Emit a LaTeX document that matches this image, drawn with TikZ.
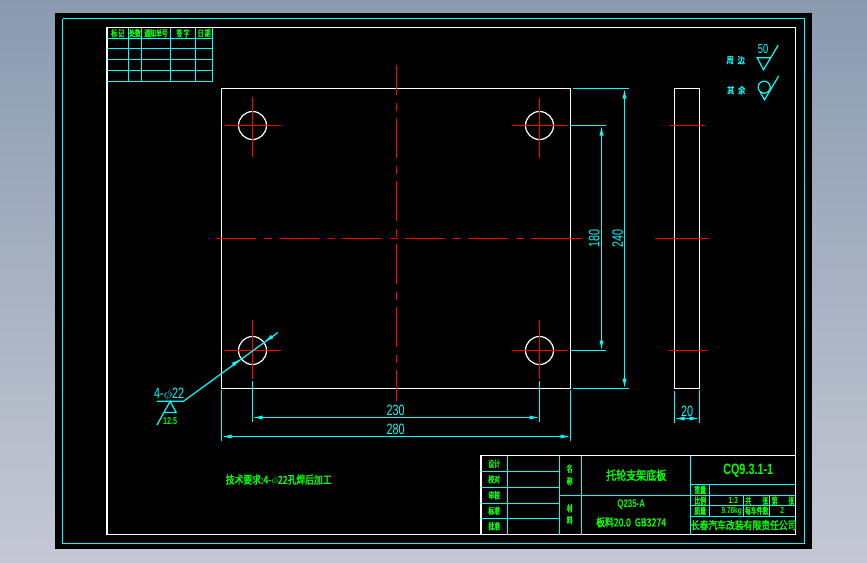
\documentclass[tikz,border=0pt]{standalone}
\usepackage{fontspec}
\usetikzlibrary{arrows.meta}
\newfontfamily\cadfont[FakeStretch=0.72]{Liberation Sans}
\newfontfamily\cjk[FakeStretch=0.8,FakeBold=2]{Noto Sans CJK SC}
\newfontfamily\cjknarrow[FakeStretch=0.65,FakeBold=2]{Noto Sans CJK SC}
\definecolor{cadcyan}{RGB}{0,255,255}
\definecolor{cadgreen}{RGB}{0,255,0}
\definecolor{cadred}{RGB}{255,0,0}
\tikzset{
  outline/.style={draw=white,line width=1.2pt},
  thinline/.style={draw=cadcyan,line width=1.2pt},
  redline/.style={draw=cadred,line width=1.2pt},
  centerline/.style={redline,dash pattern=on 40pt off 7.5pt on 8pt off 7.5pt},
  dimarrow/.style={thinline,{Latex[length=10pt,width=4.2pt]}-{Latex[length=10pt,width=4.2pt]}},
  onearrow/.style={thinline,-{Latex[length=10pt,width=4.2pt]}},
  holecirc/.style={circle,draw=white,line width=1.2pt,minimum size=28pt,inner sep=0pt},
  dimtext/.style={text=cadcyan,inner sep=0pt,font=\cadfont\fontsize{15}{15}\selectfont},
  smalltxt/.style={text=cadgreen,inner sep=0pt,font=\cjknarrow\fontsize{9}{9}\selectfont},
  midtxt/.style={text=cadgreen,inner sep=0pt,font=\cjk\fontsize{11}{11}\selectfont},
  bigtxt/.style={text=cadgreen,inner sep=0pt,font=\cjk\fontsize{12.5}{12.5}\selectfont},
  numtxt/.style={text=cadgreen,inner sep=0pt,font=\cadfont\bfseries\fontsize{9}{9}\selectfont},
  cyantxt/.style={text=cadcyan,inner sep=0pt,font=\cjk\fontsize{9}{9}\selectfont}
}
\begin{document}
\begin{tikzpicture}[x=1pt,y=-1pt]
    \useasboundingbox (0,0) rectangle (867,562);
    \shade [top color={rgb,255:red,138;green,155;blue,176},bottom color={rgb,255:red,197;green,200;blue,212}] (0,0) rectangle (867,562);
    \fill [black] (55,13) rectangle (812,549);
  \begin{scope}[shift={(0.2,0.2)}]
    % frames
    \draw [thinline] (63,18.3) -- (804.3,18.3) -- (804.3,543.3) -- (62.3,543.3) -- (62.3,19);
    \draw [outline] (106.7,27.3) rectangle (795,534.3);

    % change table
    \foreach \y in {38.3,48.3,59.3,70.3,81.3} {
        \draw [thinline] (106.7,\y) -- (212.3,\y);
    }
    \foreach \x in {128.3,141.3,170.3,195.3,212.3} {
        \draw [thinline] (\x,27.3) -- (\x,81.3);
    }
    \node [smalltxt] (markA) at (117.5,33) {标\ 记};
    \node [smalltxt] (markB) at (134.8,33) {处数};
    \node [smalltxt] (markC) at (155.8,33) {通知单号};
    \node [smalltxt] (markD) at (182.8,33) {签\ 字};
    \node [smalltxt] (markE) at (204,33) {日\ 期};

    % plate
    \draw [outline] (221.3,88.3) rectangle (570.3,388.3);
    \foreach \nm/\cx/\cy/\vt/\vb in {TL/252.3/125.3/97/157,TR/539.3/125.3/98/158,BL/252.3/350.3/320/379,BR/539.3/350.3/320/379} {
        \node [holecirc] (hole\nm) at (\cx,\cy) {};
        \draw [redline] (\cx-28,\cy) -- (\cx+28,\cy);
        \draw [redline] (\cx,\vt) -- (\cx,\vb);
    }
    \draw [centerline,dash phase=55pt] (208,238.3) -- (574,238.3);
    \draw [redline] (570,238.3) -- (582,238.3);
    \draw [centerline,dash phase=10pt] (396.3,65) -- (396.3,401);

    % side view
    \draw [outline] (674.3,88.3) rectangle (699.3,388.3);
    \draw [redline] (670,125.3) -- (705,125.3);
    \draw [redline] (655,238.3) -- (709,238.3);
    \draw [redline] (669,350.3) -- (707,350.3);

    % vertical dimensions
    \coordinate (dimAt) at (601.3,125.3);
    \coordinate (dimAb) at (601.3,350.3);
    \coordinate (dimBt) at (624.3,88.3);
    \coordinate (dimBb) at (624.3,388.3);
    \draw [thinline] (570.3,125.3) -- (606,125.3);
    \draw [thinline] (570.3,350.3) -- (606,350.3);
    \draw [thinline] (573,88.3) -- (629,88.3);
    \draw [thinline] (573,388.3) -- (629,388.3);
    \draw [dimarrow] (dimAt) -- (dimAb);
    \draw [dimarrow] (dimBt) -- (dimBb);
    \node [dimtext,rotate=90] (dimAtxt) at (594,238) {180};
    \node [dimtext,rotate=90] (dimBtxt) at (617.5,238) {240};

    % horizontal dimensions
    \coordinate (dimCl) at (252.3,417.3);
    \coordinate (dimCr) at (539.3,417.3);
    \coordinate (dimDl) at (221.3,436.3);
    \coordinate (dimDr) at (570.3,436.3);
    \coordinate (dimEl) at (674.3,418.3);
    \coordinate (dimEr) at (699.3,418.3);
    \draw [thinline] (252.3,381) -- (252.3,422);
    \draw [thinline] (539.3,381) -- (539.3,422);
    \draw [thinline] (221.3,390) -- (221.3,441);
    \draw [thinline] (570.3,390) -- (570.3,441);
    \draw [thinline] (674.3,391) -- (674.3,423);
    \draw [thinline] (699.3,390) -- (699.3,423);
    \draw [dimarrow] (dimCl) -- (dimCr);
    \draw [dimarrow] (dimDl) -- (dimDr);
    \draw [dimarrow] (dimEl) -- (dimEr);
    \node [dimtext] (dimCtxt) at (395.5,410.5) {230};
    \node [dimtext] (dimDtxt) at (395.5,429.5) {280};
    \node [dimtext] (dimEtxt) at (687,411.5) {20};

    % hole leader
    \coordinate (leadS) at (157,401);
    \coordinate (leadA) at (183.3,401);
    \coordinate (leadB) at (277.7,332.3);
    \coordinate (tipA) at (241,358.5);
    \coordinate (tailA) at (232.5,364.5);
    \coordinate (tipB) at (263.6,342.1);
    \coordinate (tailB) at (272.2,336.2);
    \draw [thinline] (leadS) -- (leadA) -- (leadB);
    \draw [onearrow] (tailA) -- (tipA);
    \draw [onearrow] (tailB) -- (tipB);
    \node [dimtext] (leadtxt) at (169,394) {4-$\phi$22};
    \draw [thinline] (156.7,425) -- (170,401) -- (176,412.3) -- (163.5,412.3);
    \node [numtxt,font=\cadfont\bfseries\fontsize{10}{10}\selectfont] (roughtxt) at (170,420.5) {12.5};

    % note
    \node [midtxt] (notetxt) at (278.5,480) {技术要求:4-$\phi$22孔焊后加工};

    % roughness marks
    \node [cyantxt] (markF) at (730,60) {周};
    \node [cyantxt] (markG) at (741,60) {边};
    \node [cyantxt] (markH) at (730.5,90) {其};
    \node [cyantxt] (markI) at (741.5,90) {余};
    \node [dimtext,font=\cadfont\fontsize{13}{13}\selectfont] (roughA) at (762.8,49) {50};
    \draw [thinline] (771,57.5) -- (757,57.5) -- (763.3,69.6) -- (778,45);
    \node [circle,draw=cadcyan,line width=1.2pt,minimum size=12pt,inner sep=0pt] (roughB) at (764,87) {};
    \draw [thinline] (760,92) -- (764.3,99.6) -- (778.6,75.6);

    % title block
    \draw [outline] (480.7,534.3) -- (480.7,455.3) -- (795,455.3);
    \foreach \y in {471.3,487.3,503.3,518.3} {
        \draw [thinline] (480.7,\y) -- (559.3,\y);
    }
    \foreach \x in {507.3,559.3,581.3,690.3} {
        \draw [thinline] (\x,455.3) -- (\x,534.3);
    }
    \draw [thinline] (559.3,495.3) -- (795,495.3);
    \foreach \y in {484.3,505.3,516.3} {
        \draw [thinline] (690.3,\y) -- (795,\y);
    }
    \draw [thinline] (709.3,484.3) -- (709.3,516.3);
    \draw [thinline] (743.3,495.3) -- (743.3,516.3);
    \draw [thinline] (769.3,495.3) -- (769.3,516.3);

    \node [smalltxt] (tbA) at (494,463.5) {设计};
    \node [smalltxt] (tbB) at (494,479) {校对};
    \node [smalltxt] (tbC) at (494,495) {审核};
    \node [smalltxt] (tbD) at (494,510.5) {标准};
    \node [smalltxt] (tbE) at (494,526) {批准};
    \node [smalltxt] (tbF) at (569.5,468.5) {名};
    \node [smalltxt] (tbG) at (569.5,481) {称};
    \node [smalltxt] (tbH) at (569.5,508) {材};
    \node [smalltxt] (tbI) at (569.5,520) {料};
    \node [bigtxt] (tbJ) at (636,475) {托轮支架底板};
    \node [numtxt,font=\cadfont\bfseries\fontsize{11}{11}\selectfont] (tbK) at (631,505) {Q235-A};
    \node [midtxt] (tbL) at (631,522) {板料20.0\ \ GB3274};
    \node [numtxt,font=\cadfont\bfseries\fontsize{15}{15}\selectfont] (tbM) at (748,471) {CQ9.3.1-1};
    \node [smalltxt] (tbN) at (700,489.5) {重量};
    \node [smalltxt] (tbO) at (700,500.5) {比例};
    \node [smalltxt] (tbP) at (700,510.5) {质量};
    \node [numtxt] (tbQ) at (733,500.5) {1:3};
    \node [numtxt] (tbR) at (731.5,510.5) {9.78kg};
    \node [smalltxt] (tbS) at (748,500.5) {共};
    \node [smalltxt] (tbT) at (765,500.5) {张};
    \node [smalltxt] (tbU) at (774.5,500.5) {第};
    \node [smalltxt] (tbV) at (791,500.5) {张};
    \node [smalltxt] (tbW) at (756.5,510.5) {每车件数};
    \node [numtxt] (tbX) at (782,510.5) {2};
    \node [midtxt] (tbY) at (743.5,525) {长春汽车改装有限责任公司};
  \end{scope}
\end{tikzpicture}
\end{document}
